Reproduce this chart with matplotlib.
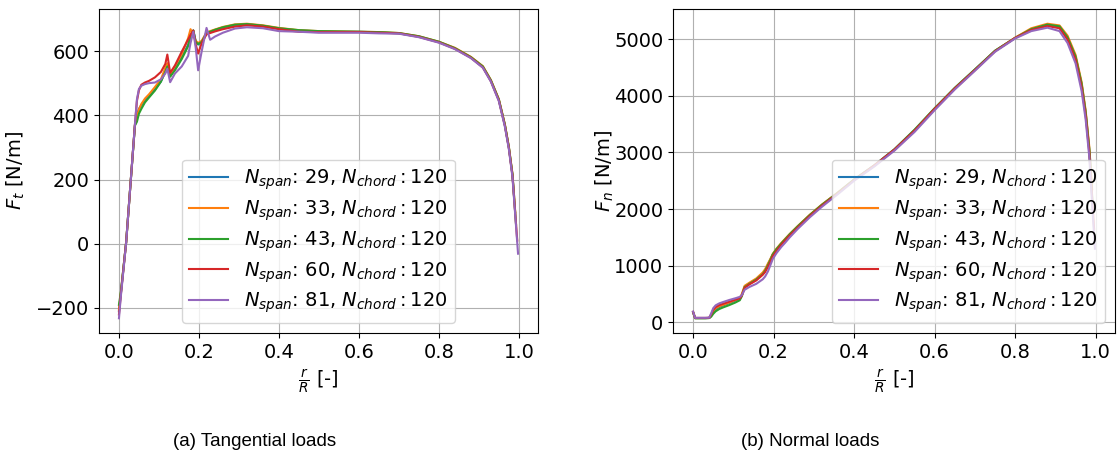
import matplotlib
matplotlib.use("Agg")
import matplotlib.pyplot as plt
import numpy as np

# spanwise stations (shared body), r/R [-]
r = [0.000, 0.005, 0.018, 0.030, 0.040, 0.045, 0.050, 0.056, 0.065, 0.075,
     0.090, 0.105, 0.116, 0.121, 0.128, 0.140, 0.157, 0.173, 0.179, 0.186,
     0.192, 0.198, 0.207, 0.219, 0.228, 0.240, 0.260, 0.290, 0.320, 0.360,
     0.400, 0.450, 0.500, 0.550, 0.600, 0.650, 0.700, 0.750, 0.800, 0.840,
     0.880, 0.910, 0.930, 0.950, 0.965, 0.975, 0.984]

n_span = [29, 33, 43, 60, 81]
n_chord = 120

# last station per discretisation (finer -> closer to the tip)
r_end = [0.988, 0.991, 0.993, 0.996, 0.998]

# tangential loads [N/m]
ft_29 = [-210, -152, 5, 205, 370, 400, 420, 432, 447, 460,
         480, 505, 540, 555, 522, 545, 580, 620, 650, 664,
         630, 620, 628, 656, 660, 665, 673, 680, 683, 678,
         670, 664, 661, 660, 660, 658, 655, 645, 628, 608,
         580, 550, 508, 448, 370, 300, 215]
ft_33 = [-205, -150, 5, 205, 370, 395, 418, 435, 452, 465,
         488, 512, 548, 562, 527, 552, 590, 640, 668, 650,
         632, 625, 632, 658, 662, 667, 675, 683, 685, 680,
         672, 665, 662, 661, 660, 659, 656, 646, 629, 610,
         582, 553, 510, 450, 372, 302, 218]
ft_43 = [-190, -148, 5, 205, 368, 380, 405, 420, 440, 455,
         477, 505, 535, 552, 520, 540, 575, 615, 645, 664,
         628, 622, 628, 656, 660, 666, 674, 682, 684, 679,
         671, 665, 662, 661, 660, 659, 656, 646, 629, 609,
         581, 552, 509, 449, 371, 301, 216]
ft_60 = [-220, -155, 5, 205, 372, 445, 478, 495, 502, 507,
         518, 535, 560, 589, 532, 555, 598, 636, 650, 664,
         620, 592, 625, 652, 656, 661, 668, 676, 680, 676,
         668, 660, 659, 659, 659, 657, 655, 644, 627, 607,
         579, 549, 506, 446, 368, 298, 212]
ft_81 = [-232, -160, 3, 205, 372, 450, 482, 492, 497, 500,
         502, 512, 530, 545, 503, 530, 552, 585, 625, 660,
         610, 540, 600, 672, 635, 645, 657, 670, 674, 671,
         662, 660, 657, 657, 657, 655, 654, 643, 626, 606,
         578, 548, 505, 444, 365, 295, 208]
ft_end = [150, 98, 60, 10, -31]

# normal loads [N/m]
fn_29 = [180, 75, 75, 75, 78, 120, 180, 230, 270, 300,
         340, 385, 415, 480, 630, 690, 760, 860, 920, 1020,
         1110, 1200, 1290, 1390, 1460, 1550, 1690, 1890, 2070, 2290,
         2520, 2770, 3050, 3390, 3770, 4130, 4460, 4790, 5020, 5170,
         5250, 5220, 5020, 4680, 4200, 3700, 3050]
fn_33 = [180, 75, 75, 75, 78, 130, 200, 250, 285, 310,
         350, 395, 425, 500, 645, 700, 775, 880, 940, 1040,
         1120, 1210, 1300, 1400, 1470, 1560, 1700, 1900, 2080, 2295,
         2520, 2760, 3040, 3380, 3760, 4120, 4450, 4790, 5025, 5190,
         5270, 5240, 5060, 4720, 4240, 3740, 3100]
fn_43 = [175, 72, 72, 72, 75, 100, 150, 195, 235, 265,
         305, 350, 390, 460, 620, 680, 755, 850, 910, 1010,
         1100, 1200, 1290, 1390, 1460, 1555, 1695, 1895, 2075, 2290,
         2520, 2770, 3055, 3400, 3780, 4140, 4465, 4795, 5020, 5175,
         5255, 5225, 5030, 4690, 4210, 3710, 3060]
fn_60 = [185, 78, 78, 78, 80, 140, 220, 270, 305, 330,
         365, 400, 425, 470, 610, 670, 740, 840, 890, 980,
         1070, 1170, 1260, 1370, 1440, 1535, 1675, 1880, 2060, 2280,
         2510, 2770, 3050, 3385, 3770, 4130, 4455, 4785, 5020, 5160,
         5230, 5190, 4990, 4640, 4150, 3650, 3000]
fn_81 = [190, 80, 80, 80, 82, 160, 250, 300, 335, 360,
         395, 425, 450, 480, 575, 625, 680, 760, 810, 900,
         1010, 1120, 1220, 1330, 1400, 1500, 1650, 1855, 2040, 2265,
         2500, 2750, 3030, 3360, 3745, 4110, 4440, 4775, 5010, 5140,
         5200, 5140, 4930, 4570, 4080, 3580, 2920]
fn_end = [2700, 2350, 2000, 1650, 1300]

ft_all = [ft_29, ft_33, ft_43, ft_60, ft_81]
fn_all = [fn_29, fn_33, fn_43, fn_60, fn_81]

plt.rcParams['font.size'] = 14

fig = plt.figure(figsize=(11.18, 4.55), dpi=100)
ax1 = fig.add_axes([99 / 1118, 1 - 333 / 455, 439 / 1118, 324 / 455])
ax2 = fig.add_axes([673 / 1118, 1 - 333 / 455, 442 / 1118, 324 / 455])

for i in range(len(n_span)):
    lab = r'$N_{span}$: %d, $N_{chord}: %d$' % (n_span[i], n_chord)
    x = np.append(r, r_end[i])
    ax1.plot(x, np.append(ft_all[i], ft_end[i]), label=lab)
    ax2.plot(x, np.append(fn_all[i], fn_end[i]), label=lab)

ax1.set_ylabel(r'$F_t$ [N/m]')
ax2.set_ylabel(r'$F_n$ [N/m]')
ax1.yaxis.set_label_coords(-0.165, 0.5)
ax2.yaxis.set_label_coords(-0.13, 0.5)
for ax in [ax1, ax2]:
    ax.set_xlabel(r'$\frac{r}{R}$ [-]')
    ax.grid(True)
ax1.legend(loc='lower center', labelspacing=0.33)
ax2.legend(loc='lower right', labelspacing=0.33)

fig.text(255 / 1118, 1 - 441 / 455, '(a) Tangential loads', ha='center',
         va='center', fontsize=13.5, family='Liberation Sans')
fig.text(810 / 1118, 1 - 441 / 455, '(b) Normal loads', ha='center',
         va='center', fontsize=13.5, family='Liberation Sans')

fig.savefig('out.png', dpi=100)
